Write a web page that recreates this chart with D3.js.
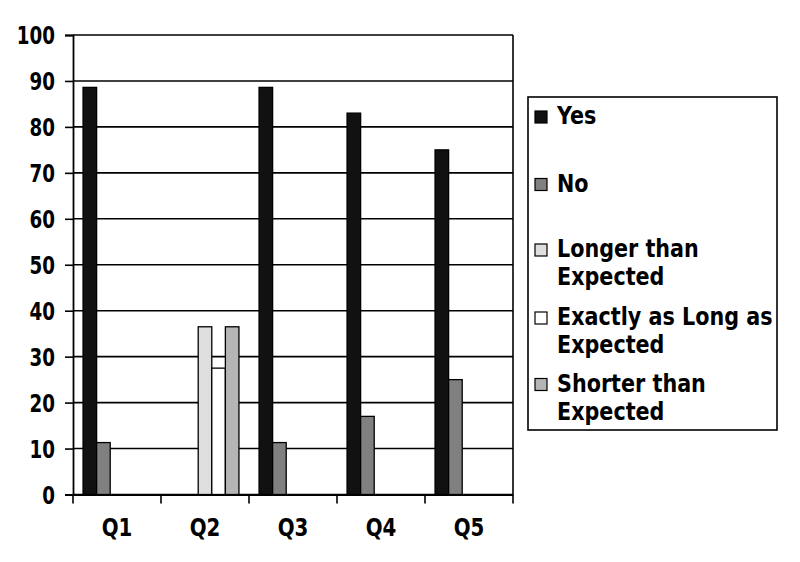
<!DOCTYPE html>
<html>
<head>
<meta charset="utf-8">
<script src="https://cdn.jsdelivr.net/npm/d3@7"></script>
<style>
  html, body { margin: 0; padding: 0; background: #fff; }
  text { font-family: "DejaVu Sans Condensed", "DejaVu Sans", sans-serif; font-stretch: condensed; font-weight: bold; fill: #000; }
</style>
</head>
<body>
<div id="chart"></div>
<script>
// --------------- Data ---------------
const categories = ["Q1", "Q2", "Q3", "Q4", "Q5"];
const seriesNames = ["Yes", "No", "Longer than Expected", "Exactly as Long as Expected", "Shorter than Expected"];
const legendLines = [["Yes"], ["No"], ["Longer than", "Expected"], ["Exactly as Long as", "Expected"], ["Shorter than", "Expected"]];
const yesValues = [88.6, null, 88.6, 83, 75];
const noValues = [11.3, null, 11.3, 17, 25];
const longerValues = [null, 36.5, null, null, null];
const exactlyValues = [null, 27.5, null, null, null];
const shorterValues = [null, 36.5, null, null, null];
const yTicks = [0, 10, 20, 30, 40, 50, 60, 70, 80, 90, 100];

const allValues = [yesValues, noValues, longerValues, exactlyValues, shorterValues];
const colors = ["#111111", "#808080", "#dedede", "#ffffff", "#b5b5b5"];

const WIDTH = 800;
const HEIGHT = 562;
const FONT_SIZE = 24.5;
const plot = { left: 73, right: 513, top: 35, bottom: 494.5 };

const svg = d3.select("#chart")
  .append("svg")
  .attr("width", WIDTH)
  .attr("height", HEIGHT);

// --------------- Scales ---------------
const x0 = d3.scaleBand().domain(categories).range([plot.left, plot.right]);
const x1 = d3.scaleBand().domain(d3.range(seriesNames.length))
  .range([0, x0.bandwidth()]).paddingInner(0).paddingOuter(0.74);
const y = d3.scaleLinear().domain([0, 100]).range([plot.bottom, plot.top]);

// gridlines
svg.append("g")
  .selectAll("line")
  .data(yTicks)
  .enter()
  .append("line")
  .attr("x1", plot.left)
  .attr("x2", plot.right)
  .attr("y1", d => y(d))
  .attr("y2", d => y(d))
  .attr("stroke", "#000")
  .attr("stroke-width", 1.6);

// right border of plot
svg.append("line")
  .attr("x1", plot.right).attr("x2", plot.right)
  .attr("y1", plot.top).attr("y2", plot.bottom)
  .attr("stroke", "#000").attr("stroke-width", 1.6);

// --------------- Bars ---------------
const table = [];
categories.forEach((c, i) => {
  allValues.forEach((vals, s) => {
    if (vals[i] != null) table.push({ cat: c, s: s, v: vals[i] });
  });
});

svg.append("g")
  .selectAll("rect")
  .data(table)
  .enter()
  .append("rect")
  .attr("x", d => x0(d.cat) + x1(d.s))
  .attr("width", x1.bandwidth())
  .attr("y", d => y(d.v))
  .attr("height", d => y(0) - y(d.v))
  .attr("fill", d => colors[d.s])
  .attr("stroke", "#000")
  .attr("stroke-width", 1.3);

// --------------- Axes ---------------
// the original font is narrow and tall, so labels get squeezed horizontally
const yAxis = d3.axisLeft(y).tickValues(yTicks).tickSize(8);
const gy = svg.append("g").attr("transform", `translate(${plot.left},0)`).call(yAxis);
gy.select(".domain").attr("stroke-width", 1.8);
gy.selectAll(".tick line").attr("stroke-width", 1.6);
gy.selectAll(".tick text")
  .attr("font-size", FONT_SIZE)
  .attr("font-family", null)
  .attr("x", 0)
  .attr("dy", "0.36em")
  .attr("transform", "translate(-18,0) scale(0.83,1)");

const xAxis = d3.axisBottom(x0).tickSize(0);
const gx = svg.append("g").attr("transform", `translate(0,${plot.bottom})`).call(xAxis);
gx.select(".domain").attr("stroke-width", 1.8);
gx.selectAll(".tick text")
  .attr("font-size", FONT_SIZE)
  .attr("font-family", null)
  .attr("y", 0)
  .attr("dy", 0)
  .attr("transform", "translate(0,41) scale(0.9,1)");

// category boundary ticks below the axis
const boundaries = categories.map(c => x0(c)).concat([plot.right]);
gx.append("g")
  .selectAll("line")
  .data(boundaries)
  .enter()
  .append("line")
  .attr("x1", d => d).attr("x2", d => d)
  .attr("y1", 0).attr("y2", 9)
  .attr("stroke", "#000").attr("stroke-width", 1.6);

// --------------- Legend ---------------
const legend = svg.append("g");
legend.append("rect")
  .attr("x", 528).attr("y", 97)
  .attr("width", 249).attr("height", 333)
  .attr("fill", "#fff").attr("stroke", "#000").attr("stroke-width", 1.6);

const legendBaselines = [124, 191.5, 257, 325, 391.5];
const items = legend.selectAll("g.item")
  .data(legendLines)
  .enter()
  .append("g")
  .attr("class", "item")
  .attr("transform", (d, i) => `translate(0,${legendBaselines[i]})`);

items.append("rect")
  .attr("x", 535).attr("y", -13)
  .attr("width", 12).attr("height", 12)
  .attr("fill", (d, i) => colors[i])
  .attr("stroke", "#000").attr("stroke-width", 1.2);

items.each(function (lines) {
  const t = d3.select(this).append("text")
    .attr("transform", "translate(557,0) scale(0.94,1)")
    .attr("font-size", FONT_SIZE);
  lines.forEach((ln, k) => {
    t.append("tspan").attr("x", 0).attr("dy", k === 0 ? 0 : 28.5).text(ln);
  });
});
</script>
</body>
</html>
